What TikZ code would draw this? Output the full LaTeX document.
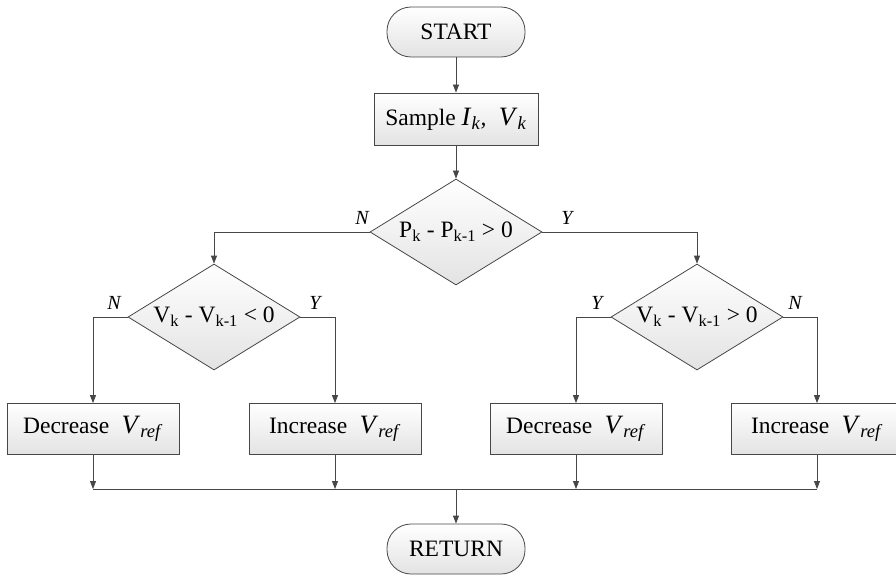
\documentclass[tikz,border=0pt]{standalone}
\usepackage{fontspec}
\setmainfont{Liberation Serif}
\usetikzlibrary{shapes.geometric,arrows.meta}
\newcommand\myvar[2]{{\fontsize{26.5}{27}\selectfont\textit{#1}\textsubscript{\textit{#2}}}}
\begin{document}
\begin{tikzpicture}[x=1pt,y=-1pt,
  line width=0.8pt,
  lc/.style={draw=black!72},
  fillsh/.style={top color=white,bottom color=black!11},
  mainfont/.style={font=\fontsize{23.5}{27}\selectfont},
  term/.style={lc,fillsh,mainfont,rectangle,rounded corners=24pt,minimum width=138pt,minimum height=50pt,inner sep=0pt},
  proc/.style={lc,fillsh,mainfont,rectangle,minimum width=172pt,minimum height=51pt,inner sep=0pt},
  dec/.style={lc,fillsh,mainfont,diamond,shape aspect=1.62,minimum width=172pt,minimum height=106pt,inner sep=0pt},
  lab/.style={font=\fontsize{20}{24}\selectfont\itshape,inner sep=0pt},
  arr/.style={draw=black!72,-{Triangle[length=8pt,width=6pt]}},
  ln/.style={draw=black!72},
]
\clip (0,0) rectangle (896,575);

\node[term] (start) at (456,32) {START};
\node[proc,minimum width=164pt,minimum height=52pt] (sample) at (456,119) {Sample \myvar{I}{k}\textit{,}\; \myvar{V}{k}};
\node[dec] (d1) at (456,232) {P\textsubscript{k} - P\textsubscript{k-1} > 0};
\node[dec] (d2) at (214,317) {V\textsubscript{k} - V\textsubscript{k-1} < 0};
\node[dec] (d3) at (697,317) {V\textsubscript{k} - V\textsubscript{k-1} > 0};
\node[proc] (b1) at (93,429) {Decrease\; \myvar{V}{ref}};
\node[proc] (b2) at (335,429) {Increase\; \myvar{V}{ref}};
\node[proc] (b3) at (576,429) {Decrease\; \myvar{V}{ref}};
\node[proc] (b4) at (817,429) {Increase\; \myvar{V}{ref}};
\node[term] (ret) at (456,549) {RETURN};

\node[lab] (n1) at (362,218) {N};
\node[lab] (y1) at (567,218) {Y};
\node[lab] (n2) at (114,303) {N};
\node[lab] (y2) at (315,303) {Y};
\node[lab] (y3) at (597,303) {Y};
\node[lab] (n3) at (795,303) {N};

\coordinate (mc) at (456,489);

\draw[arr] (start) -- (sample);
\draw[arr] (sample) -- (d1);
\draw[arr] (d1.west) -| (d2.north);
\draw[arr] (d1.east) -| (d3.north);
\draw[arr] (d2.west) -| (b1.north);
\draw[arr] (d2.east) -| (b2.north);
\draw[arr] (d3.west) -| (b3.north);
\draw[arr] (d3.east) -| (b4.north);
\foreach \b in {b1,b2,b3,b4}{
  \draw[arr] (\b.south) -- (\b.south |- mc);
}
\draw[ln] (b1.south |- mc) -- (b4.south |- mc);
\draw[arr] (mc) -- (ret);
\end{tikzpicture}
\end{document}
